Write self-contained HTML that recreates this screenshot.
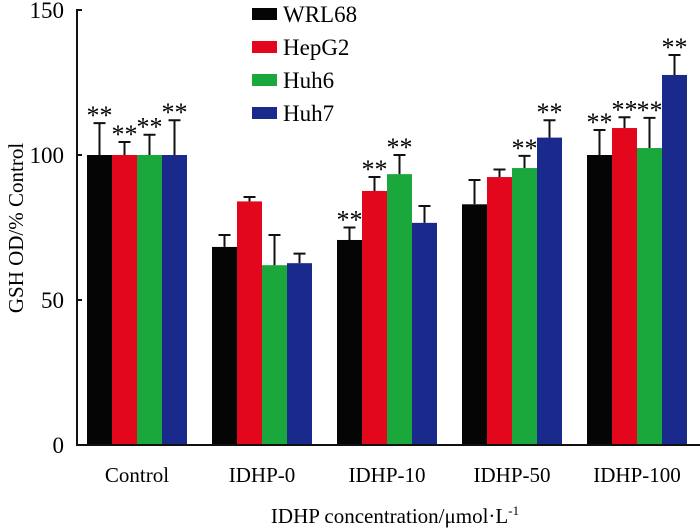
<!DOCTYPE html>
<html><head><meta charset="utf-8"><style>
body{margin:0;background:#fff}
svg{display:block;font-family:"Liberation Serif",serif}
</style></head><body>
<svg id="chart" width="700" height="530" xmlns="http://www.w3.org/2000/svg"></svg>
<script>
const categories=["Control","IDHP-0","IDHP-10","IDHP-50","IDHP-100"];
const seriesNames=["WRL68","HepG2","Huh6","Huh7"];
const seriesColors=["#050505","#e3071d","#1aa73c","#1a2a8c"];
const wrl68=[100,68.3,70.7,83,100];
const hepg2=[100,84,87.6,92.4,109.3];
const huh6=[100,62,93.4,95.5,102.4];
const huh7=[100,62.7,76.6,106,127.6];
const wrl68Err=[11,4.1,4.3,8.4,8.6];
const hepg2Err=[4.5,1.5,4.8,2.6,3.7];
const huh6Err=[7,10.4,6.6,4.2,10.4];
const huh7Err=[12,3.3,5.8,6,6.9];
const wrl68Sig=[1,0,1,0,1];
const hepg2Sig=[1,0,1,0,1];
const huh6Sig=[1,0,1,1,1];
const huh7Sig=[1,0,0,1,1];
const yTicks=[0,50,100,150];

const svg=document.getElementById('chart');
const NS='http://www.w3.org/2000/svg';
const y0=445,yTop=10,yMax=150;
function y(v){return y0-(v/yMax)*(y0-yTop);}
function groupX(i){return 87+i*125;}
const bw=25;
function mk(tag,attrs,parent){const e=document.createElementNS(NS,tag);for(const k in attrs)e.setAttribute(k,attrs[k]);(parent||svg).appendChild(e);return e;}

const vals=[wrl68,hepg2,huh6,huh7],errs=[wrl68Err,hepg2Err,huh6Err,huh7Err],sigs=[wrl68Sig,hepg2Sig,huh6Sig,huh7Sig];
categories.forEach((c,i)=>{
  vals.forEach((arr,s)=>{
    const x=groupX(i)+s*bw,v=arr[i],top=y(v),et=y(v+errs[s][i]);
    const r=mk('rect',{x:x,y:top,width:bw,height:y0-top,fill:seriesColors[s]});
    
    
    const cx=x+bw/2;
    const l=mk('path',{d:`M${cx} ${top}V${et}M${cx-6} ${et}H${cx+6}`,stroke:'#111','stroke-width':2,fill:'none'});
    
    
    if(sigs[s][i]){
      const t=mk('text',{x:cx,y:et+1,'text-anchor':'middle','font-size':26});
      t.textContent='**';
      
      
    }
  });
  const lab=mk('text',{x:groupX(i)+2*bw,y:482,'text-anchor':'middle','font-size':21});
  lab.textContent=c;
  
  
});
const ax=mk('path',{d:`M82 ${yTop}H77V${y0}H700`,stroke:'#111','stroke-width':2,fill:'none'});


yTicks.forEach(t=>{
  const tk=mk('line',{x1:77,x2:82,y1:y(t),y2:y(t),stroke:'#111','stroke-width':2});
  
  
  const tl=mk('text',{x:64,y:y(t)+8,'text-anchor':'end','font-size':23});
  tl.textContent=t;
  
  
});
const yt=mk('text',{transform:'translate(23,228) rotate(-90)','text-anchor':'middle','font-size':21});
yt.textContent='GSH OD/% Control';


const xt=mk('text',{x:395,y:523,'text-anchor':'middle','font-size':21});
xt.innerHTML='IDHP concentration/μmol·L<tspan dy="-8" font-size="13">-1</tspan>';


seriesNames.forEach((n,s)=>{
  const cy=14+s*33;
  const g=mk('g',{});
  
  
  mk('rect',{x:252,y:cy-6,width:25,height:12,fill:seriesColors[s]},g);
  const t=mk('text',{x:283,y:cy+8,'font-size':23},g);
  t.textContent=n;
});
</script>
</body></html>
